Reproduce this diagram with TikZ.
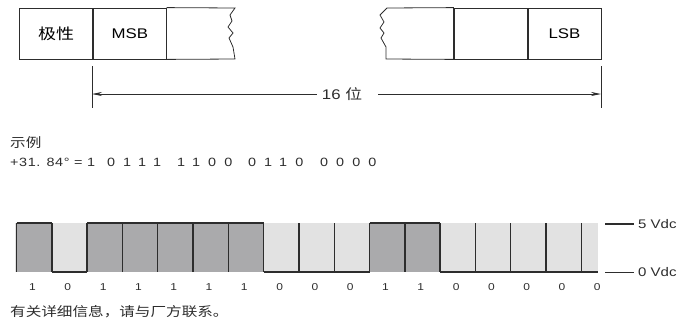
\documentclass[tikz,border=0pt]{standalone}
\usepackage{fontspec}
\setmainfont{Liberation Sans}[FakeStretch=1.2]
\newfontfamily\cjk{Noto Sans CJK SC}[FakeStretch=1.2]
\newfontfamily\eqfont{Liberation Sans}[FakeStretch=1.2,LetterSpace=5]
\newfontfamily\grpfont{Liberation Sans}[FakeStretch=1.2,LetterSpace=67]
\usetikzlibrary{arrows.meta}
\definecolor{bithigh}{RGB}{170,170,172}
\definecolor{bitlow}{RGB}{226,226,226}
\definecolor{ink}{RGB}{45,45,45}
\tikzset{
  field/.style={draw=ink,line width=0.8pt,minimum width=73pt,minimum height=51pt,inner sep=0pt},
  edge/.style={draw=ink,line width=0.8pt},
  sig/.style={draw=ink,line width=1.4pt},
  txt/.style={inner sep=0pt,text=ink},
  span/.style={draw=ink,line width=0.8pt,-{Stealth[length=10pt,width=4pt]}},
}
\begin{document}
\begin{tikzpicture}[x=1pt,y=-1pt]
\useasboundingbox (0,0) rectangle (688,322);
% word layout
\node[field,font=\fontsize{15}{15}\selectfont] (pol) at (56,33.5) {\cjk 极性};
\node[field,font=\fontsize{14}{14}\selectfont,anchor=west] (msb) at (pol.east) {MSB};
\node[field,font=\fontsize{14}{14}\selectfont] (lsb) at (564.5,33.5) {LSB};
\node[field,anchor=east] (mid) at (lsb.west) {};
\draw[edge] (msb.north east) -- (235,8) -- (230,15) -- (232,21) -- (228,27) -- (233,33)
   -- (229,38) -- (233,47) -- (235,59) -- (msb.south east);
\draw[edge] (mid.north west) -- (387,8) -- (380,15) -- (384,22) -- (380,28) -- (384,33)
   -- (381,38) -- (386,47) -- (386,59) -- (mid.south west);
\draw[edge,line width=1.2pt] (msb.north east) -- (msb.south east);
\draw[edge,line width=1.2pt] (mid.north west) -- (mid.south west);
% 16 bits
\coordinate (tl) at (92,66);
\coordinate (tr) at (601,66);
\draw[edge] (tl) -- ++(0,42);
\draw[edge] (tr) -- ++(0,42);
\node[txt,font=\fontsize{14}{14}\selectfont] (bits) at (342,94) {16 {\cjk 位}};
\draw[span] ([xshift=-5pt]bits.west) -- (tl |- bits);
\draw[span] ([xshift=16pt]bits.east) -- (tr |- bits);
% example
\node[txt,anchor=west,font=\fontsize{13}{13}\selectfont] (ex) at (10,143) {\cjk 示例};
\node[txt,anchor=west,font=\eqfont\fontsize{12}{12}\selectfont] (eq) at (10,162) {+31. 84\textdegree{} = 1};
\foreach \g/\x [count=\k] in {0111/107,1100/177,0110/248,0000/320}
  \node[txt,anchor=west,font=\grpfont\fontsize{12}{12}\selectfont] (g\k) at (\x,162) {\g};
% signal
\fill[bitlow] (15,223) rectangle (598,272);
\foreach \b [count=\i from 0] in {1,0,1,1,1,1,1,0,0,0,1,1,0,0,0,0} {
  \pgfmathsetmacro\xa{16.5+\i*35.3}
  \pgfmathsetmacro\xb{\xa+35.3}
  \ifnum\b=1
    \fill[bithigh] (\xa,223) rectangle (\xb,272);
    \draw[sig] (\xa,223) -- (\xb,223);
  \else
    \draw[sig] (\xa,272) -- (\xb,272);
  \fi
  \draw[sig] (\xa,223) -- (\xa,272);
}
\draw[sig] (581.3,223) -- (581.3,272);
\draw[sig] (581.3,272) -- (598,272);
\foreach \b [count=\i from 0] in {1,0,1,1,1,1,1,0,0,0,1,1,0,0,0,0,0}
  \node[txt,font=\fontsize{10}{10}\selectfont] (b\i) at (32.5+\i*35.3,287) {\b};
% levels
\node[txt,anchor=west,font=\fontsize{12.5}{12.5}\selectfont] (hi) at (638,224) {5 Vdc};
\node[txt,anchor=west,font=\fontsize{12.5}{12.5}\selectfont] (lo) at (638,272) {0 Vdc};
\coordinate (hiL) at (605,224);
\coordinate (loL) at (605,272);
\draw[ink,line width=1.4pt] (hiL) -- ([xshift=-4pt]hi.west);
\draw[ink,line width=0.7pt] (loL) -- ([xshift=-4pt]lo.west);
% note
\node[txt,anchor=west,font=\fontsize{13}{13}\selectfont] (note) at (10,312) {\cjk 有关详细信息，请与厂方联系。};
\end{tikzpicture}
\end{document}
